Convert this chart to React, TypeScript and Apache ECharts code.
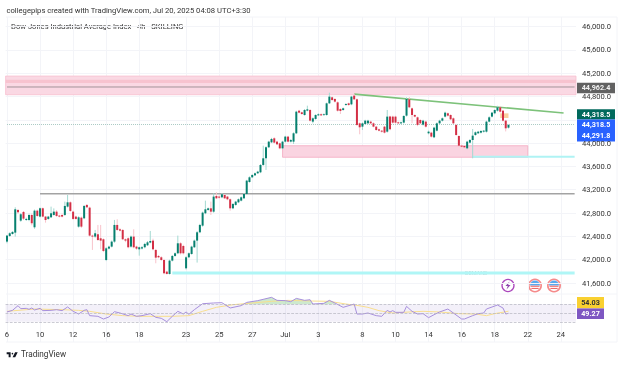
import React, { useEffect, useRef } from "react";
import * as echarts from "echarts";

const headerText = "collegepips created with TradingView.com, Jul 20, 2025 04:08 UTC+3:30";
const titleText = "Dow Jones Industrial Average Index · 4h · SKILLING";
const footerText = "TradingView";
const demandText = "DEMAND";

const barCount = 207;
const dateTicks: Record<number, string> = {
  0: "6", 12: "10", 24: "12", 36: "16", 48: "18", 65: "23", 77: "25", 89: "27", 101: "Jul",
  113: "3", 129: "8", 141: "10", 153: "14", 165: "16", 177: "18", 189: "22", 201: "24",
};
// hidden behind the price badges in the reference
const coveredPriceTicks = [44400];

// open, close, low, high
const candles: number[][] = [
  [42310,42413,42281,42424],[42407,42453,42390,42470],[42441,42476,42430,42490],[42464,42864,42396,42899],
  [42853,42813,42790,42870],[42670,42779,42650,42800],[42819,42704,42680,42835],[42681,42699,42665,42720],
  [42681,42767,42660,42790],[42767,42624,42590,42790],[42556,42841,42530,42860],[42841,42750,42735,42860],
  [42739,42882,42725,42895],[42882,42739,42725,42895],[42739,42681,42635,42750],[42699,42739,42685,42750],
  [42727,42796,42715,42910],[42767,42824,42755,42880],[42824,42750,42735,42850],[42756,42739,42725,42770],
  [42767,42739,42725,42790],[42767,42922,42750,42996],[42910,42984,42895,43110],[42984,42836,42820,43000],
  [42824,42699,42680,42840],[42739,42699,42685,42755],[42567,42727,42550,42745],[42721,42567,42545,42740],
  [42710,42922,42695,42935],[42939,42899,42885,42955],[42893,42413,42395,42910],[42413,42396,42167,42430],
  [42396,42453,42375,42510],[42436,42338,42320,42596],[42367,42327,42178,42596],[42350,42150,42130,42365],
  [41995,42195,41975,42215],[42190,42224,42175,42240],[42224,42310,42210,42330],[42310,42596,42290,42682],
  [42596,42510,42495,42693],[42521,42498,42485,42540],[42510,42350,42335,42525],[42350,42327,42300,42365],
  [42367,42213,42195,42385],[42224,42396,42205,42415],[42396,42213,42195,42521],[42224,42190,42170,42240],
  [42178,42213,42069,42225],[42190,42213,42175,42235],[42213,42270,42195,42290],[42247,42298,42235,42320],
  [42293,42321,42280,42493],[42327,42178,42160,42360],[42167,42035,41938,42185],[42064,42041,42025,42080],
  [42041,41995,41980,42060],[41995,41767,41750,42015],[41795,41755,41745,41810],[41755,41984,41745,42000],
  [41984,42064,41970,42080],[42064,42110,42050,42125],[42110,42281,42095,42413],[42281,42110,42090,42300],
  [42235,42110,42090,42255],[41852,42041,41830,42060],[42041,42110,42025,42125],[42098,42224,42085,42240],
  [42213,42327,42200,42345],[42327,42470,41950,42490],[42470,42596,42455,42615],[42584,42807,42565,42825],
  [42796,42864,42780,43013],[42853,42881,42840,42895],[42881,42824,42767,42996],[42824,43082,42805,43139],
  [43093,43053,43040,43156],[43082,43064,43045,43100],[43070,43122,43055,43140],[43110,43053,43040,43125],
  [43082,43036,43020,43095],[43036,42881,42841,43050],[42881,42956,42865,42970],[42939,42996,42925,43010],
  [42984,43036,42970,43050],[43013,43070,43000,43085],[43053,43127,43040,43140],[43127,43356,43115,43370],
  [43333,43413,43320,43430],[43413,43453,43400,43470],[43447,43482,43435,43495],[43482,43510,43470,43525],
  [43499,43625,43485,43640],[43625,43739,43610,43956],[43739,43928,43539,43945],[43928,44025,43915,44040],
  [44013,44071,44000,44090],[44082,44008,43995,44100],[44025,43979,43965,44040],[43996,43910,43895,44010],
  [43910,44025,43895,44040],[44025,44111,44010,44125],[44111,44025,44010,44125],[44025,44053,44010,44070],
  [44025,44168,43985,44185],[44168,44539,44155,44555],[44556,44522,44510,44570],[44528,44499,44485,44540],
  [44482,44568,44470,44585],[44556,44579,44545,44642],[44568,44385,44370,44585],[44368,44425,44339,44440],
  [44414,44482,44400,44495],[44476,44494,44465,44510],[44494,44476,44465,44510],[44482,44494,44470,44510],
  [44482,44682,44470,44695],[44682,44797,44670,44865],[44785,44739,44725,44800],[44757,44711,44695,44770],
  [44699,44556,44540,44715],[44585,44551,44499,44600],[44568,44597,44555,44610],[44654,44671,44640,44685],
  [44682,44654,44640,44695],[44665,44797,44650,44810],[44814,44751,44740,44845],[44751,44311,44295,44765],
  [44339,44271,44151,44355],[44282,44339,44225,44355],[44328,44385,44315,44400],[44339,44385,44325,44400],
  [44368,44339,44325,44385],[44339,44282,44270,44355],[44282,44225,44210,44295],[44236,44213,44200,44250],
  [44213,44196,44180,44225],[44282,44179,44165,44295],[44196,44454,44180,44568],[44454,44236,44220,44470],
  [44454,44351,44335,44470],[44454,44351,44335,44470],[44356,44339,44325,44370],[44339,44356,44325,44370],
  [44351,44465,44335,44480],[44471,44757,44455,44785],[44751,44614,44600,44790],[44596,44482,44340,44610],
  [44482,44454,44440,44495],[44442,44311,44290,44455],[44396,44339,44325,44410],[44316,44385,44300,44400],
  [44368,44282,44265,44385],[44168,44196,44150,44215],[44179,44111,44095,44195],[44099,44265,44085,44280],
  [44213,44339,44200,44355],[44339,44385,44325,44400],[44385,44425,44370,44440],[44454,44522,44440,44540],
  [44511,44471,44455,44525],[44482,44408,44395,44495],[44425,44339,44325,44440],[44311,44139,44125,44330],
  [44122,43956,43940,44135],[43956,43939,43925,43970],[43950,43928,43915,43965],[43910,44025,43895,44040],
  [44008,44053,43995,44070],[44053,44128,43739,44242],[44139,44185,44125,44200],[44168,44196,44155,44210],
  [44179,44208,44165,44220],[44196,44213,44180,44225],[44196,44368,44180,44385],[44368,44442,44355,44460],
  [44454,44522,44440,44535],[44511,44568,44495,44580],[44556,44614,44540,44640],[44614,44539,44525,44630],
  [44556,44385,44370,44570],[44385,44254,44200,44400],[44265,44311,44250,44325],
];

// [bar index, value]
const rsiPoints: number[][] = [
  [0,52.3],[2,56],[4,66.6],[5,59.8],[7,60.5],[8,58.3],[9,61.3],[10,56.8],[12,60.5],[13,55.3],[16,56],[18,57.5],
  [20,55.3],[22,63.6],[24,53.8],[26,47.7],[28,56],[29,57.5],[30,44],[33,42.5],[35,36.4],[37,41],[39,53],[41,50],
  [44,44],[45,47.7],[47,42.5],[49,44],[52,48.5],[54,40.2],[56,38],[58,30.4],[60,42.5],[62,53.8],[64,47.7],[65,52.3],
  [66,47],[68,57.5],[71,71],[75,72.6],[78,73.3],[81,61.3],[85,66.6],[87,74],[91,77.9],[96,85.4],[98,78.6],[101,77.9],
  [103,75.6],[105,83],[108,78.6],[110,80],[111,70.3],[115,71.8],[117,78.6],[119,72.6],[122,62.8],[126,70.3],
  [127,47.7],[129,47.7],[131,50],[134,44],[136,42.5],[138,56],[139,52.3],[140,55.3],[141,51.5],[144,51.5],[145,65],
  [147,53.8],[149,47.7],[151,48.5],[153,39.5],[155,46.2],[157,52.3],[160,59],[162,50],[165,36.4],[166,36.4],[169,44],
  [171,48.5],[173,50],[174,59],[178,68],[180,61.3],[181,47.7],[182,49.27],
];
const rsiMaPoints: number[][] = [
  [0,53.8],[10,59],[20,57.5],[26,56],[30,53.8],[36,47.7],[42,44],[48,42.5],[55,42.5],[60,42.5],[66,44],[71,53.8],
  [76,62.8],[82,68.8],[89,72.6],[96,76.4],[102,78.6],[111,77],[117,76.4],[123,70.3],[127,67.3],[131,62.8],[135,55.3],
  [140,50],[146,52.3],[151,53.8],[157,52.3],[164,48.5],[170,47.7],[174,44],[177,48.5],[182,54.03],
];

const mainZone = [45150, 44830];
const mainZoneInner = [45085, 45030];
const lowerZone = { from: 100, to: 189, top: 43955, bottom: 43757 };
const orangeBox = { from: 179, to: 182, top: 44510, bottom: 44430 };
const lastPrice = 44318.5;
const zoneMid = 44962.4;
const trendLine = [[126, 44840], [202, 44515]];
const greyLine = [[12, 43130], [206, 43130]];
const cyanHigh = [[169, 43765], [206, 43765]];
const cyanLow = [[60, 41772], [206, 41772]];

const priceBadges = [
  { text: "44,962.4", top: 82.7, h: 10.6, bg: "#616161", fg: "#f2f2f2" },
  { text: "44,318.5", top: 109.3, h: 10.2, bg: "#00695c", fg: "#ffffff" },
  { text: "44,318.5", top: 119.5, h: 10.6, bg: "#2962ff", fg: "#ffffff" },
  { text: "44,291.8", top: 130.1, h: 11.5, bg: "#2962ff", fg: "#ffffff" },
];
const rsiBadges = [
  { text: "54.03", top: 297, h: 11.3, bg: "#f9d030", fg: "#333333" },
  { text: "49.27", top: 308.4, h: 10.6, bg: "#7e57c2", fg: "#ffffff" },
];

const UP = "#07806f";
const DOWN = "#d32f45";
const UP_WICK = "#a3d9d1";
const DOWN_WICK = "#f8c3cb";
const FONT = "Roboto, sans-serif";
const GRID = "#f3f4f8";
const L = 5.6;
const W = 570.4;

const LOGO =
  "M14 6H2v6h6v8h6V6Z M28 20h-8l7.5-14h8L28 20Z M22 10a2.5 2.5 0 1 1-5 0 2.5 2.5 0 0 1 5 0Z";
echarts.graphic.registerShape("tvlogo", echarts.graphic.extendPath(LOGO, {}));

const flag = (cx: number, cy: number) => ({
  type: "group",
  children: [
    { type: "circle", shape: { cx, cy, r: 6.2 }, style: { fill: "#fff", stroke: "#f58a8a", lineWidth: 1.6 } },
    { type: "sector", shape: { cx, cy, r: 5, r0: 0, startAngle: Math.PI, endAngle: Math.PI * 2 }, style: { fill: "#5aa9ee" } },
    { type: "rect", shape: { x: cx - 4.5, y: cy + 0.2, width: 9, height: 1.1 }, style: { fill: "#ef6a6a" } },
    { type: "rect", shape: { x: cx - 3.6, y: cy + 2.4, width: 7.2, height: 1.1 }, style: { fill: "#ef6a6a" } },
  ],
});

const lineSeries = (data: number[][], color: string, width: number, type = "solid") => ({
  type: "line", xAxisIndex: 1, yAxisIndex: 1, data, showSymbol: false, silent: true,
  lineStyle: { color, width, type }, z: 3,
});

export default function App() {
  const ref = useRef<HTMLDivElement>(null);
  useEffect(() => {
    const chart = echarts.init(ref.current!, null, { renderer: "svg" });
    const cats = Array.from({ length: barCount }, (_, i) => dateTicks[i] ?? String(i));
    const isTick = (i: number) => dateTicks[i] !== undefined;
    const hiddenX = (gridIndex: number) => ({
      type: "category", gridIndex, data: cats, boundaryGap: true, show: false,
    });
    const overbought = rsiPoints.filter((p) => p[1] > 70 && p[0] > 80 && p[0] < 120);

    const graphicEls: any[] = [
      { type: "line", shape: { x1: 6, y1: 17, x2: 617, y2: 17 }, style: { stroke: GRID } },
      { type: "line", shape: { x1: 6, y1: 342, x2: 617, y2: 342 }, style: { stroke: GRID } },
      { type: "line", shape: { x1: 6, y1: 294, x2: 617, y2: 294 }, style: { stroke: GRID } },
      { type: "line", shape: { x1: 617, y1: 17, x2: 617, y2: 342 }, style: { stroke: GRID } },
      { type: "text", x: 6.5, y: 10, style: { text: headerText, font: `7.65px ${FONT}`, fill: "#333", textVerticalAlign: "middle" } },
      { type: "text", x: 11, y: 26.7, style: { text: titleText, font: `7.6px ${FONT}`, fill: "#333", textVerticalAlign: "middle" } },
      { type: "text", x: 465, y: 273, style: { text: demandText, font: `5.5px ${FONT}`, fill: "#b5cfcf", textVerticalAlign: "middle" } },
      { type: "tvlogo", x: 6, y: 350, scaleX: 0.33, scaleY: 0.36, style: { fill: "#131722" } },
      { type: "text", x: 21, y: 354.3, style: { text: footerText, font: `8.2px ${FONT}`, fill: "#333", textVerticalAlign: "middle" } },
      { type: "circle", shape: { cx: 508, cy: 285.5, r: 6 }, style: { fill: "#fff", stroke: "#ab47bc", lineWidth: 1.3 } },
      { type: "polygon", shape: { points: [[509.5, 281.5], [505.5, 286], [507.8, 286], [506.5, 289.5], [510.5, 285], [508.2, 285]] }, style: { fill: "#8e44ad" } },
      flag(535, 285.5),
      flag(554, 285.5),
      ...priceBadges.map((b) => ({
        type: "group",
        children: [
          { type: "rect", shape: { x: 577, y: b.top, width: 38, height: b.h }, style: { fill: b.bg } },
          { type: "text", x: 596, y: b.top + b.h / 2 - 0.4, style: { text: b.text, font: `bold 7.2px ${FONT}`, fill: b.fg, textAlign: "center", textVerticalAlign: "middle" } },
        ],
      })),
      ...rsiBadges.map((b) => ({
        type: "group",
        children: [
          { type: "rect", shape: { x: 577, y: b.top, width: 27, height: b.h }, style: { fill: b.bg } },
          { type: "text", x: 590.5, y: b.top + b.h / 2, style: { text: b.text, font: `bold 7.2px ${FONT}`, fill: b.fg, textAlign: "center", textVerticalAlign: "middle" } },
        ],
      })),
    ];

    chart.setOption({
      animation: false,
      backgroundColor: "#ffffff",
      grid: [
        { left: L, width: W, top: 17, height: 325 },
        { left: L, width: W, top: 26.5, height: 256.5 },
        { left: L, width: W, top: 295.3, height: 35.4 },
      ],
      xAxis: [
        {
          type: "category", gridIndex: 0, data: cats, boundaryGap: true,
          axisLine: { show: false }, axisTick: { show: false },
          axisLabel: {
            inside: true, margin: 4, interval: (i: number) => isTick(i),
            formatter: (v: string) => v, fontSize: 7.6, fontFamily: FONT, color: "#333", hideOverlap: false,
          },
          splitLine: { show: true, alignWithLabel: true, interval: (i: number) => isTick(i), lineStyle: { color: GRID, width: 1 } },
        },
        hiddenX(1),
        hiddenX(2),
      ],
      yAxis: [
        { type: "value", gridIndex: 0, show: false, min: 0, max: 1, splitLine: { show: false } },
        {
          type: "value", gridIndex: 1, position: "right", min: 41600, max: 46000, interval: 400,
          axisLine: { show: false }, axisTick: { show: false },
          axisLabel: {
            margin: 6, fontSize: 7.6, fontFamily: FONT, color: "#333",
            formatter: (v: number) => coveredPriceTicks.includes(v) ? "" : v.toLocaleString("en-US", { minimumFractionDigits: 1, maximumFractionDigits: 1 }),
          },
          splitLine: { show: true, lineStyle: { color: GRID, width: 1 } },
        },
        { type: "value", gridIndex: 2, show: false, min: 10, max: 90, interval: 20, splitLine: { show: false } },
      ],
      series: [
        {
          type: "line", xAxisIndex: 1, yAxisIndex: 1, data: [], silent: true, z: 1,
          markArea: {
            silent: true,
            data: [
              [{ yAxis: mainZone[0], itemStyle: { color: "#fad8e3", borderColor: "#f7bfcf", borderWidth: 0.8 } }, { yAxis: mainZone[1] }],
              [{ yAxis: mainZoneInner[0], itemStyle: { color: "#f7c3cf" } }, { yAxis: mainZoneInner[1] }],
              [{ xAxis: lowerZone.from, yAxis: lowerZone.top, itemStyle: { color: "#fad4e1", borderColor: "#f4a9c0", borderWidth: 0.8 } }, { xAxis: lowerZone.to, yAxis: lowerZone.bottom }],
              [{ xAxis: orangeBox.from, yAxis: orangeBox.top, itemStyle: { color: "#f9d09f" } }, { xAxis: orangeBox.to, yAxis: orangeBox.bottom }],
            ],
          },
        },
        lineSeries([[0, zoneMid], [206, zoneMid]], "#a29398", 1),
        lineSeries(greyLine, "#a3a3a3", 1.5),
        lineSeries(cyanHigh, "#aff3f4", 2),
        lineSeries(cyanLow, "#aff6f6", 3),
        lineSeries([[0, lastPrice], [206, lastPrice]], "#a9c9c3", 1, "dotted"),
        {
          type: "custom", xAxisIndex: 1, yAxisIndex: 1, silent: true, z: 4,
          encode: { x: 0, y: [1, 2, 3, 4] },
          data: candles.map((c, i) => [i, c[0], c[1], c[2], c[3]]),
          renderItem: (_: any, api: any) => {
            const i = api.value(0);
            const o = api.coord([i, api.value(1)]);
            const c = api.coord([i, api.value(2)]);
            const lo = api.coord([i, api.value(3)]);
            const hi = api.coord([i, api.value(4)]);
            const up = api.value(2) >= api.value(1);
            const bw = 2;
            return {
              type: "group",
              children: [
                { type: "line", shape: { x1: o[0], y1: hi[1], x2: o[0], y2: lo[1] }, style: { stroke: up ? UP_WICK : DOWN_WICK, lineWidth: 1 } },
                { type: "rect", shape: { x: o[0] - bw / 2, y: Math.min(o[1], c[1]), width: bw, height: Math.max(Math.abs(o[1] - c[1]), 0.8) }, style: { fill: up ? UP : DOWN } },
              ],
            };
          },
        },
        lineSeries(trendLine, "#7dc27a", 1.6),
        {
          type: "line", xAxisIndex: 2, yAxisIndex: 2, data: [], silent: true, z: 1,
          markArea: { silent: true, itemStyle: { color: "rgba(126,87,194,0.09)" }, data: [[{ yAxis: 70 }, { yAxis: 30 }]] },
          markLine: {
            silent: true, symbol: "none", label: { show: false },
            lineStyle: { color: "#b4b4c0", type: "dashed", width: 0.7 },
            data: [{ yAxis: 70 }, { yAxis: 50 }, { yAxis: 30 }],
          },
        },
        {
          type: "custom", xAxisIndex: 2, yAxisIndex: 2, silent: true, z: 2,
          encode: { x: 0, y: 1 },
          data: overbought,
          renderItem: (p: any, api: any) => {
            if (p.dataIndex !== 0) return null;
            const pts = [
              api.coord([overbought[0][0], 70]),
              ...overbought.map((q) => api.coord(q)),
              api.coord([overbought[overbought.length - 1][0], 70]),
            ];
            return { type: "polygon", shape: { points: pts }, style: { fill: "rgba(76,175,80,0.28)" } };
          },
        },
        {
          type: "line", xAxisIndex: 2, yAxisIndex: 2, data: rsiMaPoints, showSymbol: false, silent: true, z: 3,
          lineStyle: { color: "#f8de8e", width: 1 },
        },
        {
          type: "line", xAxisIndex: 2, yAxisIndex: 2, data: rsiPoints, showSymbol: false, silent: true, z: 4,
          lineStyle: { color: "#a78fdc", width: 1 },
        },
      ],
      graphic: { elements: graphicEls },
    });
    return () => chart.dispose();
  }, []);
  return (
    <div
      ref={ref}
      style={{ position: "fixed", left: 0, top: 0, width: 624, height: 365, background: "#fff", filter: "blur(0.35px)" }}
    />
  );
}
